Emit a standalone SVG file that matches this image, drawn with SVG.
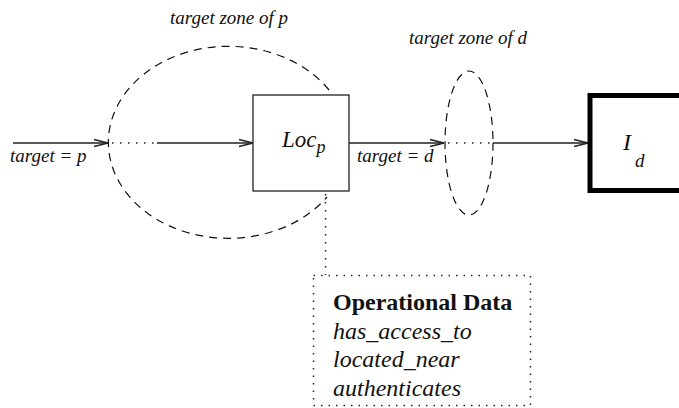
<svg xmlns="http://www.w3.org/2000/svg" width="679" height="408" viewBox="0 0 679 408">
<style>
.ln{stroke:#222;stroke-width:1.3;fill:none}
.dot{stroke:#222;stroke-width:1.5;fill:none;stroke-dasharray:1.5 6.5}
.dash{stroke:#111;stroke-width:1.2;fill:none;stroke-dasharray:8 6}
.lbl{font-family:"Liberation Serif",serif;font-style:italic;font-size:19px;fill:#111}
.box{font-family:"Liberation Serif",serif;font-size:24px;fill:#111}
</style>
<defs>
<marker id="arr" markerUnits="userSpaceOnUse" markerWidth="16" markerHeight="10" refX="15" refY="5" orient="auto">
<path d="M1,1.5 L15,5 L1,8.5" fill="none" stroke="#222" stroke-width="1.3"/>
</marker>
</defs>
<g id="zones">
<path class="dash" d="M 329 90 A 120 96 0 1 0 327 197"/>
<ellipse class="dash" cx="469" cy="143" rx="24" ry="72"/>
<text class="lbl" x="170" y="24">target zone of p</text>
<text class="lbl" x="409" y="44">target zone of d</text>
</g>
<g id="connectors">
<line class="ln" x1="13" y1="143" x2="108" y2="143" marker-end="url(#arr)"/>
<line class="dot" x1="112" y1="143" x2="157" y2="143"/>
<line class="ln" x1="157" y1="143" x2="253" y2="143" marker-end="url(#arr)"/>
<line class="ln" x1="349" y1="143" x2="444" y2="143" marker-end="url(#arr)"/>
<line class="dot" x1="448" y1="143" x2="493" y2="143"/>
<line class="ln" x1="493" y1="143" x2="588" y2="143" marker-end="url(#arr)"/>
<line class="dot" x1="325.5" y1="194" x2="325.5" y2="275"/>
<text class="lbl" x="10" y="162">target = p</text>
<text class="lbl" x="357" y="162">target = d</text>
</g>
<g id="locp">
<rect x="253" y="95" width="96" height="96" fill="#fff" stroke="#222" stroke-width="1.3"/>
<text class="lbl" x="282" y="147" style="font-size:23px">Loc<tspan dy="6" style="font-size:18px">p</tspan></text>
</g>
<g id="id">
<rect x="590" y="95.5" width="110" height="95" fill="#fff" stroke="#000" stroke-width="5"/>
<text class="lbl" x="623" y="150" style="font-size:24px">I</text>
<text class="lbl" x="635" y="167" style="font-size:19px">d</text>
</g>
<g id="opdata">
<rect x="313.5" y="275.5" width="217" height="130" fill="none" stroke="#222" stroke-width="1.5" stroke-dasharray="1.5 6"/>
<text class="box" x="333" y="310" font-weight="bold">Operational Data</text>
<text class="box" x="333" y="338.5" font-style="italic">has_access_to</text>
<text class="box" x="333" y="367" font-style="italic">located_near</text>
<text class="box" x="333" y="395.5" font-style="italic">authenticates</text>
</g>
</svg>
